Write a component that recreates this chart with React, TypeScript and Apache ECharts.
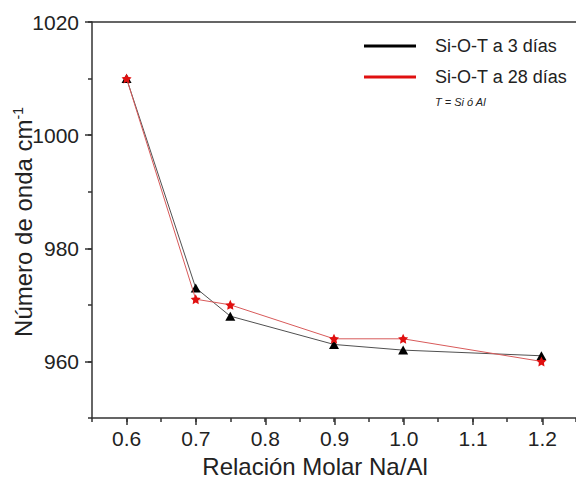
import React, { useEffect, useRef } from "react";
import * as echarts from "echarts";

const xValues = [0.6, 0.7, 0.75, 0.9, 1.0, 1.2];
const dias3 = [1010, 973, 968, 963, 962, 961];
const dias28 = [1010, 971, 970, 964, 964, 960];
const seriesNames = ["Si-O-T a 3 días", "Si-O-T a 28 días"];
const xMin = 0.55;
const xMax = 1.25;
const xLabelMin = 0.6;
const xLabelMax = 1.2;
const yMin = 950;
const yMax = 1020;
const yLabelMin = 960;

const FONT = "'Liberation Sans', Arial, sans-serif";
const STAR =
  "path://M12 2l3.09 6.26L22 9.27l-5 4.87 1.18 6.88L12 17.77l-6.18 3.25L7 14.14 2 9.27l6.91-1.01L12 2z";

export default function App() {
  const ref = useRef<HTMLDivElement>(null);
  useEffect(() => {
    if (!ref.current) return;
    const chart = echarts.init(ref.current, null, { renderer: "svg" });
    const L = 92;
    const W = 485.1;
    const T = 22;
    const H = 396;
    const pxX = W / (xMax - xMin);
    const pxY = H / (yMax - yMin);
    const axisColor = "#333";
    chart.setOption({
      animation: false,
      backgroundColor: "#fff",
      grid: [
        { left: L, top: T, width: W, height: H },
        {
          left: L + (xLabelMin - xMin) * pxX,
          top: T,
          width: (xLabelMax - xLabelMin) * pxX,
          height: H,
        },
        { left: L, top: T, width: W, height: (yMax - yLabelMin) * pxY },
      ],
      xAxis: [
        {
          type: "value",
          gridIndex: 0,
          min: xMin,
          max: xMax,
          interval: 0.05,
          axisLine: { show: true, lineStyle: { color: axisColor, width: 1.5 } },
          axisTick: { show: true, length: 4, lineStyle: { color: axisColor, width: 1.5 } },
          axisLabel: { show: false },
          splitLine: { show: false },
        },
        {
          type: "value",
          gridIndex: 0,
          position: "top",
          min: xMin,
          max: xMax,
          interval: 0.05,
          axisLine: { show: true, lineStyle: { color: axisColor, width: 1.5 } },
          axisTick: { show: false },
          axisLabel: { show: false },
          splitLine: { show: false },
        },
        {
          type: "value",
          gridIndex: 1,
          min: xLabelMin,
          max: xLabelMax,
          interval: 0.1,
          axisLine: { show: false },
          axisTick: { show: true, length: 7, lineStyle: { color: axisColor, width: 1.5 } },
          axisLabel: {
            show: true,
            margin: 10,
            fontSize: 21,
            fontFamily: FONT,
            color: "#222",
            formatter: (v: number) => v.toFixed(1),
          },
          splitLine: { show: false },
        },
        {
          type: "value",
          gridIndex: 2,
          min: xMin,
          max: xMax,
          show: false,
        },
      ],
      yAxis: [
        {
          type: "value",
          gridIndex: 0,
          min: yMin,
          max: yMax,
          interval: 10,
          axisLine: { show: true, lineStyle: { color: axisColor, width: 1.5 } },
          axisTick: { show: true, length: 4, lineStyle: { color: axisColor, width: 1.5 } },
          axisLabel: { show: false },
          splitLine: { show: false },
        },
        {
          type: "value",
          gridIndex: 1,
          min: yMin,
          max: yMax,
          show: false,
        },
        {
          type: "value",
          gridIndex: 2,
          min: yLabelMin,
          max: yMax,
          interval: 20,
          axisLine: { show: false },
          axisTick: { show: true, length: 7, lineStyle: { color: axisColor, width: 1.5 } },
          axisLabel: {
            show: true,
            margin: 13,
            fontSize: 21,
            fontFamily: FONT,
            color: "#222",
            formatter: (v: number) => String(v),
          },
          splitLine: { show: false },
        },
      ],
      legend: {
        orient: "vertical",
        left: 364,
        top: 37,
        padding: 0,
        itemWidth: 52,
        itemHeight: 3,
        itemGap: 13,
        textStyle: {
          fontSize: 18,
          lineHeight: 18,
          fontFamily: FONT,
          color: "#222",
          padding: [0, 0, 0, 14],
        },
        data: [
          { name: seriesNames[0], icon: "rect", itemStyle: { color: "#000" } },
          { name: seriesNames[1], icon: "rect", itemStyle: { color: "#e01010" } },
        ],
      },
      series: [
        {
          type: "line",
          name: seriesNames[0],
          xAxisIndex: 0,
          yAxisIndex: 0,
          data: xValues.map((x, i) => [x, dias3[i]]),
          symbol: "triangle",
          symbolSize: [10, 9],
          lineStyle: { color: "#505050", width: 1 },
          itemStyle: { color: "#000" },
          z: 2,
        },
        {
          type: "line",
          name: seriesNames[1],
          xAxisIndex: 0,
          yAxisIndex: 0,
          data: xValues.map((x, i) => [x, dias28[i]]),
          symbol: STAR,
          symbolSize: 10,
          lineStyle: { color: "#d85a5a", width: 1 },
          itemStyle: { color: "#e01010" },
          z: 3,
        },
      ],
      graphic: [
        {
          type: "text",
          x: 23,
          y: 222,
          rotation: Math.PI / 2,
          style: {
            text: "{a|Número de onda cm}{b|-1}",
            align: "center",
            verticalAlign: "middle",
            rich: {
              a: { fontSize: 24, fontFamily: FONT, fill: "#222" },
              b: { fontSize: 14, fontFamily: FONT, fill: "#222", verticalAlign: "top" },
            },
          },
        },
        {
          type: "text",
          x: 315,
          y: 466,
          style: {
            text: "Relación Molar Na/Al",
            align: "center",
            verticalAlign: "middle",
            fontSize: 24,
            fontFamily: FONT,
            fill: "#222",
          },
        },
        {
          type: "text",
          x: 435,
          y: 101.5,
          style: {
            text: "T = Si ó Al",
            align: "left",
            verticalAlign: "middle",
            fontSize: 11,
            fontStyle: "italic",
            fontFamily: FONT,
            fill: "#222",
          },
        },
      ],
    });
    return () => chart.dispose();
  }, []);
  return (
    <div
      ref={ref}
      style={{ position: "fixed", left: 0, top: 0, width: 576, height: 480 }}
    />
  );
}
